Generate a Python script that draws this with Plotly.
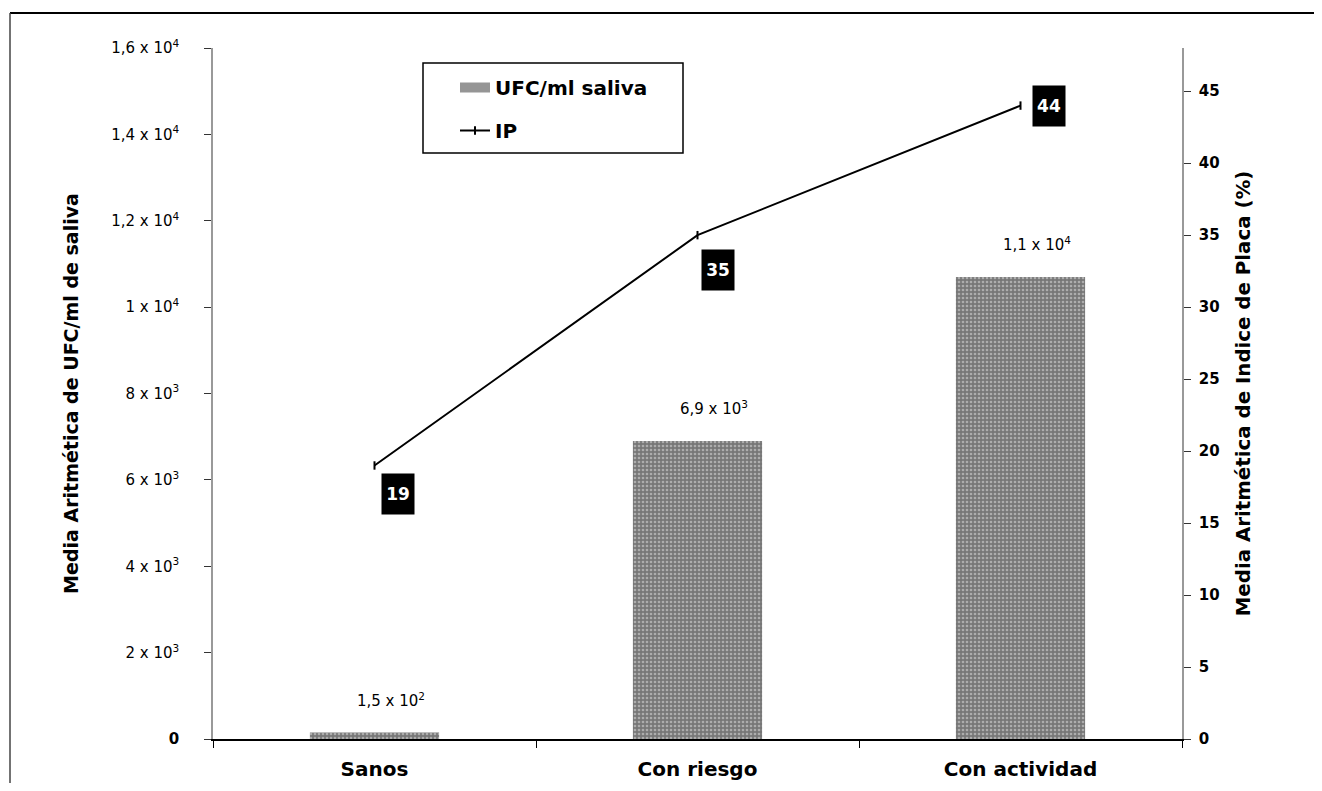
import plotly.graph_objects as go

categories = ["Sanos", "Con riesgo", "Con actividad"]
ufc_values = [150, 6900, 10700]
ufc_labels = ["1,5 x 10<sup>2</sup>", "6,9 x 10<sup>3</sup>", "1,1 x 10<sup>4</sup>"]
ip_values = [19, 35, 44]

left_tickvals = [0, 2000, 4000, 6000, 8000, 10000, 12000, 14000, 16000]
left_ticktext = ["<b>0</b>", "2 x 10<sup>3</sup>", "4 x 10<sup>3</sup>", "6 x 10<sup>3</sup>",
                 "8 x 10<sup>3</sup>", "1 x 10<sup>4</sup>", "1,2 x 10<sup>4</sup>",
                 "1,4 x 10<sup>4</sup>", "1,6 x 10<sup>4</sup>"]
right_tickvals = [0, 5, 10, 15, 20, 25, 30, 35, 40, 45]
right_ticktext = [f"<b>{v}</b>" for v in right_tickvals]

FONT = "DejaVu Sans, sans-serif"
BAR_GRAY = "#8c8c8c"

# page offset of the plot div (body margin) is 8 px
OFF = 8
FIG_W, FIG_H = 1322 - OFF, 791 - 2 * OFF
L, T, W, H = 213 - OFF, 48 - OFF, 969, 691


def px(x_screen):
    return (x_screen - OFF - L) / W


def py(y_screen):
    return (T + H - (y_screen - OFF)) / H


fig = go.Figure()
fig.add_trace(go.Bar(
    x=categories, y=ufc_values, name="UFC/ml saliva", width=0.4,
    marker=dict(color=BAR_GRAY, line=dict(width=0),
                pattern=dict(shape=".", fgcolor="#e4e4e4", bgcolor="#777777",
                             size=4, solidity=0.35)),
    showlegend=False, yaxis="y",
))
# legend entry for the bars (wide grey swatch)
fig.add_trace(go.Scatter(
    x=[None], y=[None], name="<b>UFC/ml saliva</b>", mode="lines",
    line=dict(color="#959595", width=10), legendgroup="a", yaxis="y",
))
fig.add_trace(go.Scatter(
    x=categories, y=ip_values, name="<b>IP</b>", mode="lines+markers",
    line=dict(color="black", width=2),
    marker=dict(symbol="line-ns", size=6, line=dict(width=2, color="black"), color="black"),
    legendgroup="b", yaxis="y2",
))

# bar value labels
for c, v, t in zip(categories, ufc_values, ufc_labels):
    fig.add_annotation(x=c, y=v, xref="x", yref="y", text=t, showarrow=False,
                       yshift=33, xshift=16, font=dict(family=FONT, size=15, color="black"))

# IP labels
ip_shifts = [(23, -29), (20, -35), (28, 0)]
for c, v, (dx, dy) in zip(categories, ip_values, ip_shifts):
    fig.add_annotation(x=c, y=v, xref="x", yref="y2", text=f"<b>{v}</b>", showarrow=False,
                       xshift=dx, yshift=dy, bgcolor="black", width=24, height=32, borderpad=4,
                       font=dict(family=FONT, size=17, color="white"))

# legend box
fig.add_shape(type="rect", xref="paper", yref="paper", x0=px(423), x1=px(683), y0=py(153), y1=py(63),
              line=dict(color="black", width=1.5), fillcolor="rgba(0,0,0,0)")
# figure border (top & left)
fig.add_shape(type="line", xref="paper", yref="paper", x0=px(10), x1=px(1322), y0=py(13), y1=py(13),
              line=dict(color="black", width=2))
fig.add_shape(type="line", xref="paper", yref="paper", x0=px(10), x1=px(10), y0=py(13), y1=py(791),
              line=dict(color="#444", width=1.5))

fig.update_layout(
    width=FIG_W, height=FIG_H,
    margin=dict(l=L, r=FIG_W - L - W, t=T, b=FIG_H - T - H, autoexpand=False),
    paper_bgcolor="white", plot_bgcolor="white",
    font=dict(family=FONT, color="black"),
    showlegend=True,
    legend=dict(x=px(455), y=py(68), xanchor="left", yanchor="top",
                bgcolor="rgba(0,0,0,0)", borderwidth=0, tracegroupgap=14,
                font=dict(family=FONT, size=20, color="black")),
    xaxis=dict(showline=True, linecolor="black", linewidth=1.5, ticks="outside",
               tickson="boundaries", ticklen=7, tickcolor="black", ticklabelstandoff=11,
               tickfont=dict(family=FONT, size=20, color="black"), automargin=False,
               tickvals=categories, ticktext=[f"<b>{c}</b>" for c in categories],
               showgrid=False, zeroline=False),
    yaxis=dict(range=[0, 16000], tickvals=left_tickvals, ticktext=left_ticktext,
               showline=True, linecolor="#999", linewidth=1.5, ticks="outside", ticklen=7,
               tickcolor="#333", showgrid=False, zeroline=False, ticklabelstandoff=22,
               tickfont=dict(family=FONT, size=15, color="black"), automargin=False,
               title=dict(text="<b>Media Aritmética de UFC/ml de saliva</b>", standoff=28,
                          font=dict(family=FONT, size=19, color="black"))),
    yaxis2=dict(range=[0, 48], tickvals=right_tickvals, ticktext=right_ticktext,
                overlaying="y", side="right", automargin=False,
                showline=True, linecolor="#999", linewidth=1.5, ticks="outside", ticklen=7,
                tickcolor="#333", showgrid=False, zeroline=False, ticklabelstandoff=5,
                tickfont=dict(family=FONT, size=15, color="black"),
                title=dict(text="<b>Media Aritmética de Indice de Placa (%)</b>", standoff=18,
                           font=dict(family=FONT, size=19.8, color="black"))),
)

fig.write_html("out.html")
